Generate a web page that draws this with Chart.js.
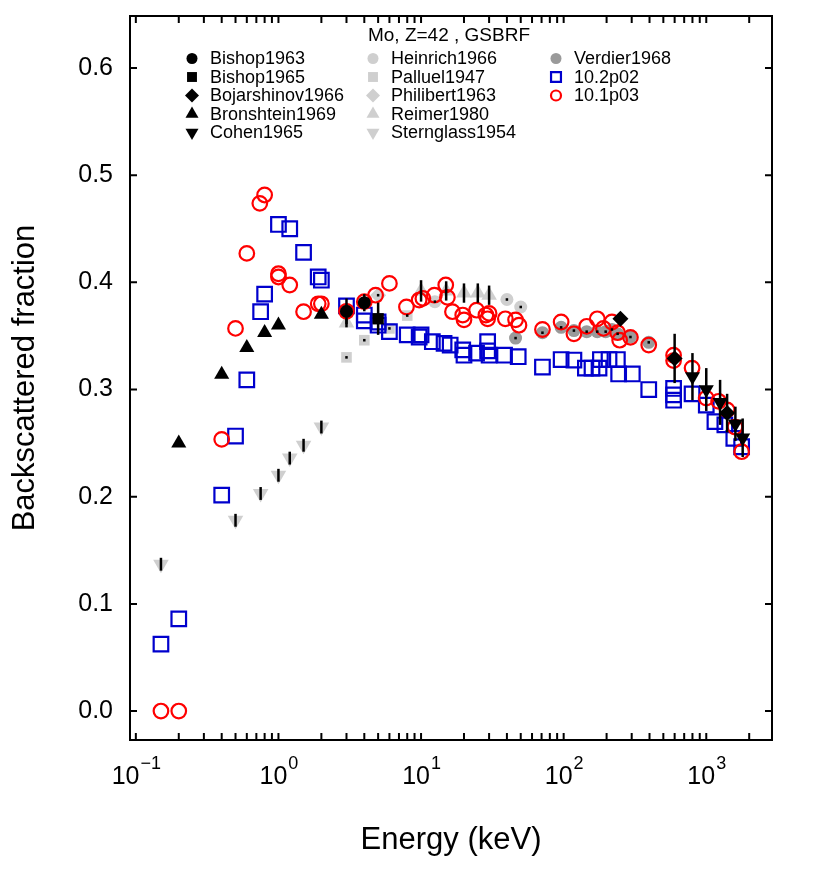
<!DOCTYPE html>
<html><head><meta charset="utf-8">
<script src="https://cdn.jsdelivr.net/npm/chart.js@4.4.0/dist/chart.umd.min.js"></script>
<style>html,body{margin:0;padding:0;background:#fff}</style>
</head><body>
<canvas id="c" width="830" height="879"></canvas>
<script>
// axis ticks
const yTicks = [0, 0.1, 0.2, 0.3, 0.4, 0.5, 0.6];
const xTickExps = [-1, 0, 1, 2, 3];

// experimental data (energy keV / backscattered fraction / error)
const bishop1963E = [3, 4];
const bishop1963Y = [0.373, 0.381];
const bishop1963Err = [0.012, 0.008];
const bishop1965E = [5];
const bishop1965Y = [0.366];
const bishop1965Err = [0.015];
const bojarshinovE = [250, 600, 1400];
const bojarshinovY = [0.366, 0.329, 0.278];
const bojarshinovErr = [0.002, 0.023, 0.018];
const bronshteinE = [0.2, 0.4, 0.6, 0.8, 1.0, 2.0];
const bronshteinY = [0.250, 0.314, 0.339, 0.353, 0.360, 0.370];
const cohenE = [800, 1000, 1250, 1600, 1800];
const cohenY = [0.312, 0.300, 0.288, 0.268, 0.255];
const cohenErr = [0.022, 0.020, 0.021, 0.016, 0.018];
const heinrichE = [12.5, 40, 50];
const heinrichY = [0.382, 0.384, 0.377];
const palluelE = [3, 4, 6, 8];
const palluelY = [0.330, 0.346, 0.357, 0.369];
const philibertE = [5];
const philibertY = [0.388];
const reimerE = [3, 10, 15, 20, 25, 30];
const reimerY = [0.362, 0.392, 0.392, 0.390, 0.390, 0.388];
const reimerErr = [0.004, 0.010, 0.009, 0.009, 0.009, 0.009];
const sternglassE = [0.15, 0.5, 0.75, 1.0, 1.2, 1.5, 2.0];
const sternglassY = [0.137, 0.178, 0.203, 0.220, 0.236, 0.248, 0.265];
const sternglassErr = [0.006, 0.006, 0.006, 0.006, 0.006, 0.006, 0.006];
const verdierE = [46, 71, 96, 118, 145, 172, 197, 218, 239, 294, 395];
const verdierY = [0.348, 0.353, 0.358, 0.355, 0.354, 0.354, 0.354, 0.356, 0.352, 0.349, 0.344];

// Geant4 simulations
const g4_102E = [0.15, 0.2, 0.4, 0.5, 0.6, 0.75, 0.8, 1.0, 1.2, 1.5, 1.9, 2.0, 3, 4, 4, 5, 5, 6, 8, 9.7, 10,
  12, 14.5, 16, 19.6, 20, 24.5, 29.3, 29.3, 30, 38.5, 48, 71, 96, 118, 142, 158, 177, 181, 208, 238, 243,
  303, 395, 590, 590, 590, 795, 1000, 1150, 1350, 1560, 1770];
const g4_102Y = [0.0625, 0.086, 0.2015, 0.2566, 0.309, 0.3726, 0.389, 0.454, 0.450, 0.428, 0.405, 0.402,
  0.378, 0.3695, 0.364, 0.363, 0.360, 0.354, 0.351, 0.349, 0.351, 0.3446, 0.343, 0.3415, 0.337, 0.332,
  0.334, 0.3446, 0.336, 0.332, 0.332, 0.3306, 0.321, 0.328, 0.3275, 0.320, 0.320, 0.320, 0.328, 0.328,
  0.328, 0.3145, 0.3145, 0.300, 0.301, 0.295, 0.290, 0.296, 0.2855, 0.270, 0.267, 0.2545, 0.2466];
const g4_101E = [0.15, 0.2, 0.4, 0.5, 0.6, 0.74, 0.8, 1.0, 1.0, 1.2, 1.5, 1.9, 2.0, 3, 4, 4.8, 6, 7.9,
  9.7, 10.3, 12.4, 14.9, 15.3, 16.6, 19.6, 20, 24.5, 28.5, 29.3, 30, 39, 46, 48.6, 71, 96, 118, 145, 172,
  190, 218, 239, 247, 294, 395, 590, 590, 795, 1000, 1220, 1400, 1590, 1770];
const g4_101Y = [0.0, 0.0, 0.2535, 0.357, 0.427, 0.4737, 0.4815, 0.408, 0.405, 0.3975, 0.3726, 0.380, 0.380,
  0.373, 0.382, 0.388, 0.399, 0.377, 0.3835, 0.385, 0.388, 0.3975, 0.386, 0.3726, 0.3695, 0.365, 0.374,
  0.3695, 0.366, 0.371, 0.366, 0.365, 0.360, 0.356, 0.363, 0.352, 0.359, 0.366, 0.357, 0.363, 0.353,
  0.346, 0.3487, 0.3415, 0.332, 0.327, 0.320, 0.292, 0.289, 0.281, 0.265, 0.242];

const BLACK = '#000000', LGREY = '#cfcfcf', DGREY = '#9a9a9a', BLUE = '#0000cd', RED = '#ff0000';
const dotErr = E => E.map(() => 0.0012);

function series(label, E, Y, err, o) {
  return {
    label, err,
    data: E.map((e, i) => ({ x: e, y: Y[i] })),
    pointStyle: o.style, pointRadius: o.r, pointRotation: o.rot || 0,
    backgroundColor: o.fill || 'rgba(0,0,0,0)', borderColor: o.line || o.fill,
    borderWidth: o.lw || 0, order: o.order, legendR: o.lr, showLine: false
  };
}

const datasets = [
  series('Bishop1963', bishop1963E, bishop1963Y, bishop1963Err, { style: 'circle', r: 6.5, fill: BLACK, order: 1, lr: 5.5 }),
  series('Bishop1965', bishop1965E, bishop1965Y, bishop1965Err, { style: 'rect', r: 8, fill: BLACK, order: 1, lr: 7 }),
  series('Bojarshinov1966', bojarshinovE, bojarshinovY, bojarshinovErr, { style: 'rectRot', r: 8, fill: BLACK, order: 1, lr: 7 }),
  series('Bronshtein1969', bronshteinE, bronshteinY, null, { style: 'triangle', r: 8.7, fill: BLACK, order: 1, lr: 7.5 }),
  series('Cohen1965', cohenE, cohenY, cohenErr, { style: 'triangle', rot: 180, r: 8.7, fill: BLACK, order: 1, lr: 7.5 }),
  series('Heinrich1966', heinrichE, heinrichY, dotErr(heinrichE), { style: 'circle', r: 6.5, fill: LGREY, order: 4, lr: 5.5 }),
  series('Palluel1947', palluelE, palluelY, dotErr(palluelE), { style: 'rect', r: 7.5, fill: LGREY, order: 4, lr: 7 }),
  series('Philibert1963', philibertE, philibertY, dotErr(philibertE), { style: 'rectRot', r: 8, fill: LGREY, order: 4, lr: 7 }),
  series('Reimer1980', reimerE, reimerY, reimerErr, { style: 'triangle', r: 9, fill: LGREY, order: 4, lr: 7.5 }),
  series('Sternglass1954', sternglassE, sternglassY, sternglassErr, { style: 'triangle', rot: 180, r: 9, fill: LGREY, order: 4, lr: 7.5 }),
  series('Verdier1968', verdierE, verdierY, dotErr(verdierE), { style: 'circle', r: 6.5, fill: DGREY, order: 4, lr: 5.5 }),
  series('10.2p02', g4_102E, g4_102Y, null, { style: 'rect', r: 10.3, line: BLUE, lw: 2.2, order: 3, lr: 7 }),
  series('10.1p03', g4_101E, g4_101Y, null, { style: 'circle', r: 7.3, line: RED, lw: 2.2, order: 2, lr: 5 })
];

const FONT = '"Liberation Sans", Arial, Helvetica, sans-serif';

// error bars (and the tiny centre dots of the grey sets)
const errorBars = {
  id: 'errorBars',
  afterDatasetsDraw(chart) {
    const ctx = chart.ctx, ys = chart.scales.y;
    ctx.save();
    ctx.strokeStyle = BLACK; ctx.lineWidth = 2.5; ctx.lineCap = 'butt';
    chart.data.datasets.forEach((ds, i) => {
      if (!ds.err) return;
      chart.getDatasetMeta(i).data.forEach((pt, j) => {
        const v = ds.data[j].y, e = ds.err[j];
        ctx.beginPath();
        ctx.moveTo(pt.x, ys.getPixelForValue(v + e));
        ctx.lineTo(pt.x, ys.getPixelForValue(v - e));
        ctx.stroke();
      });
    });
    ctx.restore();
  }
};

// R-style box, inward ticks, labels and in-plot legend
const frame = {
  id: 'frame',
  afterDraw(chart) {
    const ctx = chart.ctx, a = chart.chartArea, xs = chart.scales.x, ys = chart.scales.y;
    const TL = 7;
    ctx.save();
    ctx.strokeStyle = BLACK; ctx.fillStyle = BLACK; ctx.lineWidth = 2;
    ctx.strokeRect(a.left, a.top, a.right - a.left, a.bottom - a.top);
    ctx.beginPath();
    yTicks.forEach(v => {
      const py = ys.getPixelForValue(v);
      ctx.moveTo(a.left, py); ctx.lineTo(a.left + TL, py);
      ctx.moveTo(a.right, py); ctx.lineTo(a.right - TL, py);
    });
    for (let p = -2; p <= 4; p++) {
      for (let m = 1; m <= 9; m++) {
        const v = m * Math.pow(10, p);
        if (v < xs.min || v > xs.max) continue;
        const px = xs.getPixelForValue(v);
        ctx.moveTo(px, a.bottom); ctx.lineTo(px, a.bottom - TL);
        ctx.moveTo(px, a.top); ctx.lineTo(px, a.top + TL);
      }
    }
    ctx.stroke();

    // y tick labels
    ctx.font = '25px ' + FONT;
    ctx.textAlign = 'right'; ctx.textBaseline = 'middle';
    yTicks.forEach(v => ctx.fillText(v.toFixed(1), 113, ys.getPixelForValue(v)));

    // x tick labels 10^n
    ctx.textBaseline = 'alphabetic'; ctx.textAlign = 'left';
    xTickExps.forEach(n => {
      const px = xs.getPixelForValue(Math.pow(10, n));
      const exp = n < 0 ? '\u2212' + (-n) : String(n);
      ctx.font = '25px ' + FONT;
      const w1 = ctx.measureText('10').width;
      ctx.font = '18px ' + FONT;
      const w2 = ctx.measureText(exp).width;
      const x0 = px - (w1 + w2) / 2;
      ctx.font = '25px ' + FONT;
      ctx.fillText('10', x0, 784);
      ctx.font = '18px ' + FONT;
      ctx.fillText(exp, x0 + w1 + 1, 769);
    });

    // axis titles
    ctx.font = '31px ' + FONT;
    ctx.textAlign = 'center';
    ctx.fillText('Energy (keV)', (a.left + a.right) / 2, 849);
    ctx.save();
    ctx.translate(34, (a.top + a.bottom) / 2);
    ctx.rotate(-Math.PI / 2);
    ctx.fillText('Backscattered fraction', 0, 0);
    ctx.restore();

    // legend
    ctx.font = '19px ' + FONT;
    ctx.textAlign = 'center'; ctx.textBaseline = 'middle';
    ctx.fillText('Mo, Z=42 , GSBRF', 449, 36);
    ctx.font = '18px ' + FONT;
    const colX = [192, 373, 556], rowY = [58.5, 77, 95.5, 114, 132.5];
    ctx.textAlign = 'left';
    chart.data.datasets.forEach((ds, i) => {
      const c = Math.floor(i / 5), r = i % 5;
      const x = colX[c], y = rowY[r];
      ctx.save();
      ctx.fillStyle = ds.backgroundColor; ctx.strokeStyle = ds.borderColor;
      ctx.lineWidth = ds.borderWidth;
      Chart.helpers.drawPoint(ctx, {
        pointStyle: ds.pointStyle, rotation: ds.pointRotation,
        radius: ds.legendR, borderWidth: ds.borderWidth
      }, x, y);
      ctx.restore();
      ctx.fillStyle = BLACK;
      ctx.fillText(ds.label, x + 18, y + 1);
    });
    ctx.restore();
  }
};

new Chart(document.getElementById('c'), {
  type: 'scatter',
  data: { datasets },
  options: {
    responsive: false, animation: false, devicePixelRatio: 1,
    layout: { padding: { top: 16, right: 58, bottom: 0, left: 0 } },
    plugins: { legend: { display: false }, tooltip: { enabled: false } },
    scales: {
      x: {
        type: 'logarithmic', min: 0.091, max: 2890,
        grid: { display: false }, border: { display: false },
        ticks: { display: false },
        afterFit(s) { s.height = 139; }
      },
      y: {
        type: 'linear', min: -0.027, max: 0.6485,
        grid: { display: false }, border: { display: false },
        ticks: { display: false },
        afterFit(s) { s.width = 130; }
      }
    }
  },
  plugins: [errorBars, frame]
});
</script>
</body></html>
